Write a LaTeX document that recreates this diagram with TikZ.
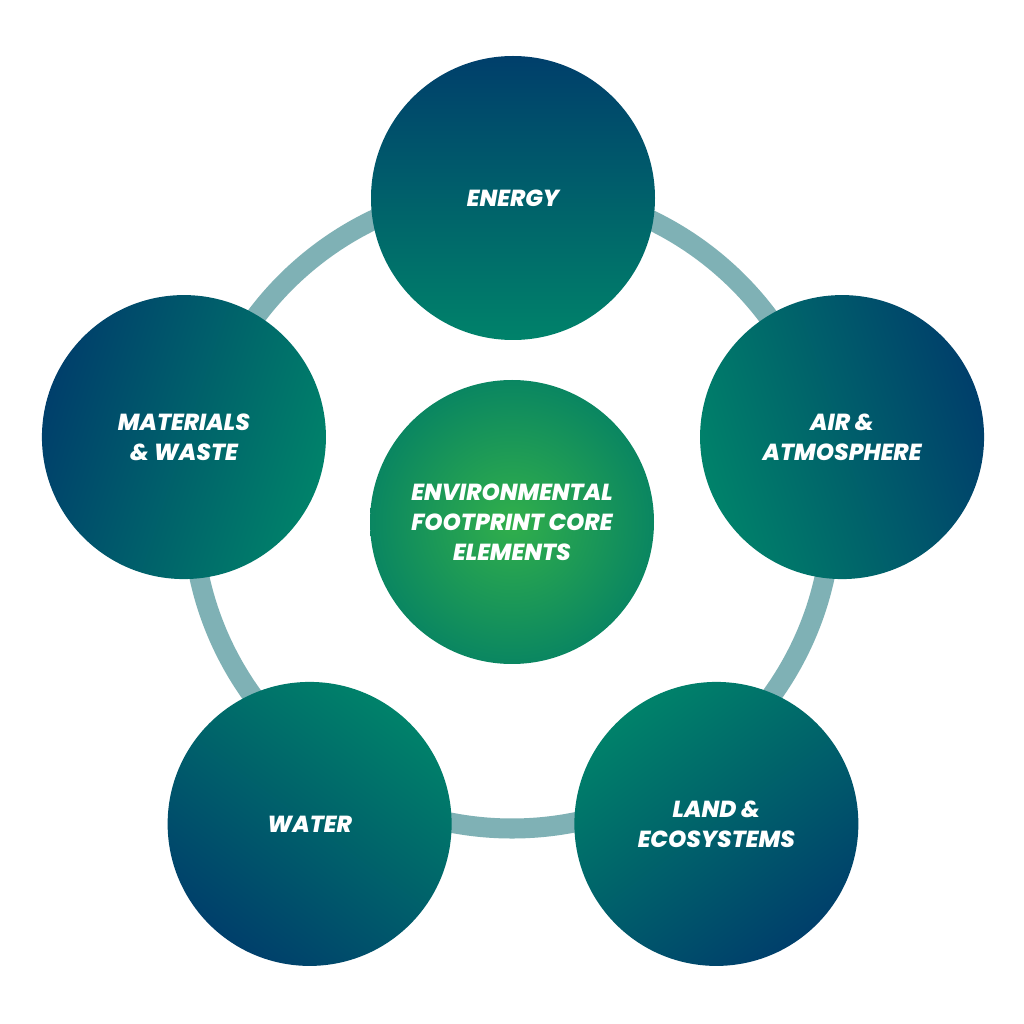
\documentclass[tikz,border=0pt]{standalone}
\usepackage{fontspec}
\setmainfont{Poppins}[BoldItalicFont={* ExtraBold Italic}]
\usepackage{xcolor}
\usepackage{tikz}
\usetikzlibrary{calc}
\definecolor{deep}{HTML}{003F6B}
\definecolor{sea}{HTML}{00826A}
\definecolor{ringc}{HTML}{7FB1B5}
\definecolor{coreinner}{HTML}{31AF4B}
\definecolor{coreouter}{HTML}{0A8661}
\tikzset{
  ring/.style={draw=ringc, line width=5.7pt},
  disc/.style={circle, minimum size=2.84cm, inner sep=0pt, align=center,
    text=white, font=\fontsize{6.6}{8.5}\selectfont\bfseries\itshape},
  bubble/.style={disc, top color=deep, bottom color=sea, shading angle=#1},
  corebubble/.style={disc, inner color=coreinner, outer color=coreouter}
}
\begin{document}
\begin{tikzpicture}
  \useasboundingbox[fill=white] (0,0) rectangle (10.24,10.24);
  \coordinate (C) at (5.13,4.80);
  \def\r{3.46}
  \draw[ring] (5.12,5.155) circle (3.20);

  \node[corebubble] (core) at (5.12,5.02) {ENVIRONMENTAL\\FOOTPRINT CORE\\ELEMENTS};
  \node[bubble=0] (energy) at ($(C)+(90:\r)$) {ENERGY};
  \node[bubble=-72] (air) at ($(C)+(18:\r)$) {AIR \&\\ATMOSPHERE};
  \node[bubble=-144] (land) at ($(C)+(-54:\r)$) {LAND \&\\ECOSYSTEMS};
  \node[bubble=144] (water) at ($(C)+(-126:\r)$) {WATER};
  \node[bubble=72] (materials) at ($(C)+(162:\r)$) {MATERIALS\\\& WASTE};
\end{tikzpicture}
\end{document}
